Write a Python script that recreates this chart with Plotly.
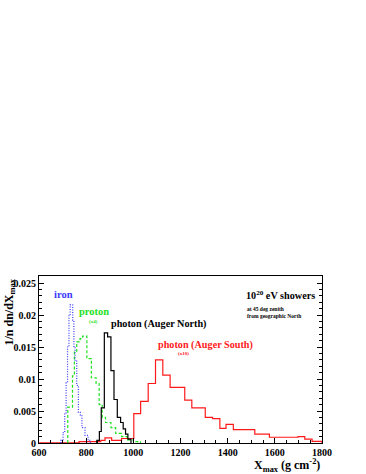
import plotly.graph_objects as go

# ---- data ----
iron_edges = [692, 702, 709, 715, 721, 727, 732, 743, 748, 753, 760, 767, 775, 782, 795, 808, 818]
iron_vals = [0.0004, 0.0016, 0.0047, 0.0094, 0.0150, 0.0200, 0.0216, 0.0192, 0.0150, 0.0128,
             0.0090, 0.0048, 0.0044, 0.0024, 0.0012, 0.0004]

proton_edges = [722, 742, 750, 760, 774, 785, 803, 822, 842, 855, 868, 882, 905, 925, 950, 975, 1000, 1030]
proton_vals = [0.0056, 0.0105, 0.0143, 0.0158, 0.0163, 0.0167, 0.0132, 0.0102, 0.0093, 0.0060,
               0.0040, 0.0032, 0.0024, 0.0015, 0.0010, 0.0005, 0.0002]

north_edges = [845, 856, 864, 877, 891, 905, 918, 932, 946, 957, 967, 977, 990]
north_vals = [0.0004, 0.0018, 0.0055, 0.0172, 0.0166, 0.0113, 0.0068, 0.0040, 0.0032, 0.0022, 0.0014, 0.0006]

south_edges = [600, 770, 862, 880, 908, 950, 1002, 1031, 1063, 1094, 1125, 1156, 1218, 1248, 1305,
               1336, 1367, 1393, 1424, 1515, 1577, 1698, 1727, 1758, 1800]
south_vals = [0.00003, 0.0002, 0.0004, 0.0008, 0.0004, 0.0007, 0.0046, 0.0065, 0.0093, 0.0130,
              0.0106, 0.0087, 0.0067, 0.0055, 0.0040, 0.0038, 0.0023, 0.0029, 0.0021, 0.0014,
              0.0009, 0.0010, 0.0006, 0.00025]

x_ticks = [600, 800, 1000, 1200, 1400, 1600, 1800]
y_ticks = [0, 0.005, 0.01, 0.015, 0.02, 0.025]
y_tick_text = ["0", "0.005", "0.01", "0.015", "0.02", "0.025"]

W, H = 366, 474
L, R, T, B = 39, 322.3, 276, 443.3
SERIF = "Liberation Serif, Times New Roman, serif"


def hist_xy(edges, vals):
    xs = [edges[0]] + list(edges)
    ys = [0] + list(vals) + [0]
    return xs, ys


def px(x):
    return (x - L) / (R - L)


def py(y):
    return (B - y) / (B - T)


fig = go.Figure()
for edges, vals, color, dash in [
    (south_edges, south_vals, "#ff1a1a", "solid"),
    (proton_edges, proton_vals, "#22e022", "3px,2px"),
    (iron_edges, iron_vals, "#3a3aff", "1px,1.5px"),
    (north_edges, north_vals, "#000000", "solid"),
]:
    xs, ys = hist_xy(edges, vals)
    fig.add_trace(go.Scatter(x=xs, y=ys, mode="lines", line_shape="hv",
                             line=dict(color=color, width=1.2, dash=dash),
                             showlegend=False, hoverinfo="skip"))

tick_font = dict(family=SERIF, size=10, color="black", weight="bold")
fig.update_xaxes(range=[600, 1800], tickvals=x_ticks, ticks="inside", ticklen=5,
                 tickwidth=1, tickcolor="black", showline=True, linecolor="black",
                 linewidth=1.2, mirror=True, showgrid=False, zeroline=False,
                 tickfont=tick_font,
                 minor=dict(dtick=50, ticks="inside", ticklen=3, tickcolor="black", showgrid=False))
fig.update_yaxes(range=[0, 0.0261], tickvals=y_ticks, ticktext=y_tick_text, ticks="inside",
                 ticklen=5, tickwidth=1, tickcolor="black", showline=True, linecolor="black",
                 linewidth=1.2, mirror="ticks", showgrid=False, zeroline=False,
                 tickfont=tick_font,
                 minor=dict(dtick=0.001, ticks="inside", ticklen=3, tickcolor="black", showgrid=False))

ann = []


def text(x, y, s, size, color="black", xanchor="left", bold=True, angle=0, yanchor="middle"):
    ann.append(dict(x=px(x), y=py(y), xref="paper", yref="paper", text=s, showarrow=False,
                    xanchor=xanchor, yanchor=yanchor, textangle=angle,
                    font=dict(family=SERIF, size=size, color=color,
                              weight="bold" if bold else "normal")))


text(52, 295, "iron", 10.5, "#3a3aff")
text(77, 312, "proton", 10.5, "#22e022")
text(87, 322, "(x4)", 5, "#22e022")
text(109, 324, "photon (Auger North)", 10.2)
text(156, 345, "photon (Auger South)", 10.2, "#ff1a1a")
text(176, 354, "(x10)", 5, "#ff1a1a")
text(244, 295, "10<sup>20</sup> eV showers", 10.2)
text(245, 309, "at 45 deg zenith", 5.5)
text(245, 316, "from geographic North", 5.5)
text(322, 466, "X<sub>max</sub> (g cm<sup>-2</sup>)", 12, xanchor="right")
text(10, 277, "1/n dn/dX<sub>max</sub>", 12, xanchor="center", angle=-90, yanchor="top")

fig.update_layout(width=W, height=H, margin=dict(l=L, r=W - R, t=T, b=H - B),
                  paper_bgcolor="white", plot_bgcolor="white", annotations=ann,
                  font=dict(family=SERIF))
fig.write_html("out.html", config={"displayModeBar": False},
               post_script="document.body.style.margin='0';document.body.style.overflow='hidden';")
